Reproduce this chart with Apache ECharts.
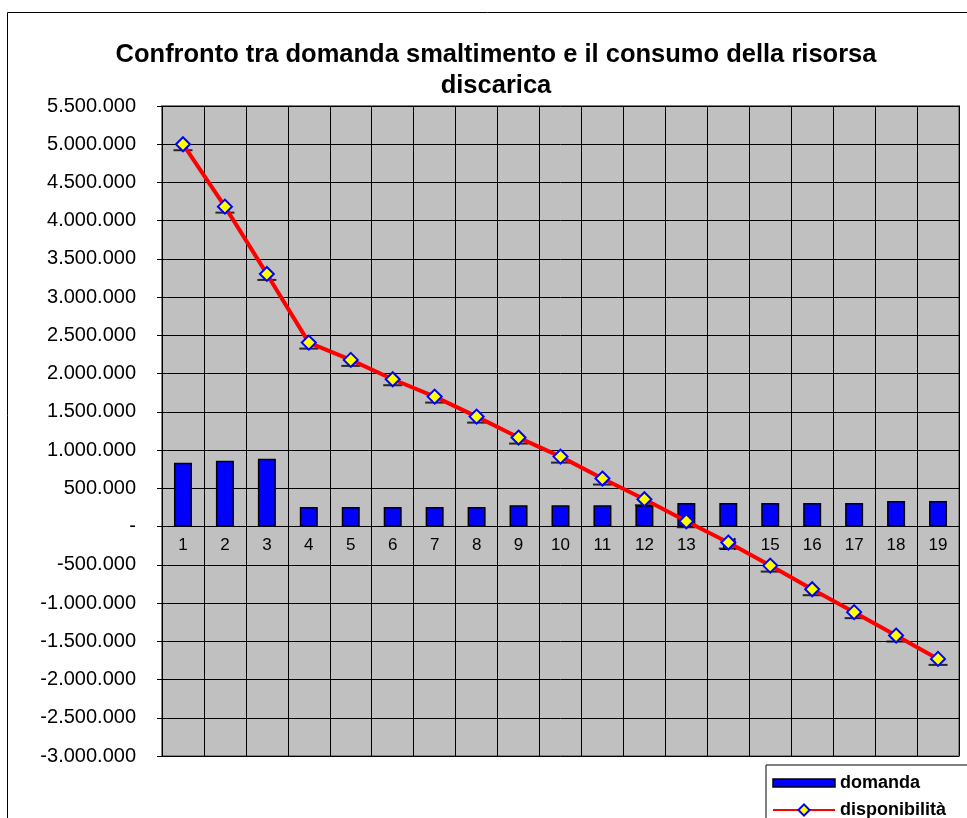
<!DOCTYPE html>
<html>
<head>
<meta charset="utf-8">
<script src="https://cdn.jsdelivr.net/npm/echarts@6/dist/echarts.min.js"></script>
<style>
  html, body { margin: 0; padding: 0; background: #fff; }
  #chart { width: 967px; height: 818px; }
</style>
</head>
<body>
<div id="chart"></div>
<script>
// dati
const categories = ['1','2','3','4','5','6','7','8','9','10','11','12','13','14','15','16','17','18','19'];
const domanda = [835000, 862000, 888000, 256000, 256000, 256000, 256000, 256000, 278000, 278000,
                 278000, 278000, 308000, 308000, 308000, 308000, 308000, 334000, 334000];
const disponibilita = [5000000, 4184000, 3304000, 2406000, 2180000, 1927000, 1700000, 1438000, 1164000, 915000,
                       628000, 358000, 70000, -209000, -510000, -819000, -1119000, -1425000, -1730000];
const yTicks = { min: -3000000, max: 5500000, step: 500000 };

function fmt(v) {
  if (v === 0) return '-';
  const s = Math.abs(v).toString().replace(/\B(?=(\d{3})+(?!\d))/g, '.');
  return (v < 0 ? '-' : '') + s;
}

const gridTop = 106, gridBottom = 62, chartH = 818;
// distanza della linea dello zero dal bordo inferiore del grafico
const plotH = chartH - gridTop - gridBottom;
const zeroFromBottom = plotH * (0 - yTicks.min) / (yTicks.max - yTicks.min);

const chart = echarts.init(document.getElementById('chart'));

const option = {
  backgroundColor: '#ffffff',
  animation: false,
  title: {
    text: 'Confronto tra domanda smaltimento e il consumo della risorsa\ndiscarica',
    left: 491,
    textAlign: 'center',
    top: 34,
    textStyle: {
      fontFamily: 'Arial, Liberation Sans',
      fontSize: 25.5,
      fontWeight: 'bold',
      color: '#000',
      lineHeight: 31
    }
  },
  graphic: [
    {
      type: 'rect',
      left: 5, top: 10,
      shape: { width: 1000, height: 900 },
      style: { fill: 'none', stroke: '#000', lineWidth: 1 },
      z: -1
    }
  ],
  legend: {
    orient: 'vertical',
    left: 766,
    top: 765,
    height: 120,
    width: 300,
    backgroundColor: '#fff',
    borderColor: '#000',
    borderWidth: 1,
    padding: [9, 40, 10, 6],
    itemGap: 9,
    itemWidth: 62,
    itemHeight: 14,
    textStyle: { fontFamily: 'Arial, Liberation Sans', fontSize: 18, fontWeight: 'bold', color: '#000' },
    data: [
      { name: 'domanda', icon: 'path://M0,3 L62,3 L62,11 L0,11 Z', itemStyle: { color: '#0000ff', borderColor: '#000', borderWidth: 1.5 } },
      { name: 'disponibilità' }
    ]
  },
  grid: {
    left: 162, top: gridTop, right: 8, bottom: gridBottom,
    show: true,
    backgroundColor: '#c0c0c0',
    borderColor: '#808080',
    borderWidth: 2
  },
  xAxis: {
    type: 'category',
    data: categories,
    offset: -zeroFromBottom,
    axisLine: { onZero: false, lineStyle: { color: '#000', width: 1 } },
    axisTick: { show: true, length: 4, lineStyle: { color: '#000' } },
    axisLabel: { margin: 10, color: '#000', fontSize: 17, fontFamily: 'Arial, Liberation Sans' },
    splitLine: { show: true, lineStyle: { color: '#000', width: 1 } }
  },
  yAxis: {
    type: 'value',
    min: yTicks.min,
    max: yTicks.max,
    interval: yTicks.step,
    axisLine: { show: false },
    axisTick: { show: true, length: 5, lineStyle: { color: '#000' } },
    axisLabel: { margin: 26, color: '#000', fontSize: 20, fontFamily: 'Arial, Liberation Sans', formatter: fmt },
    splitLine: { show: true, lineStyle: { color: '#000', width: 1 } }
  },
  series: [
    {
      name: 'domanda',
      type: 'bar',
      data: domanda,
      barWidth: 18,
      itemStyle: { color: '#0000ff', borderColor: '#000', borderWidth: 1.5 },
      z: 2
    },
    {
      name: 'trattino',
      type: 'scatter',
      data: disponibilita,
      symbol: 'rect',
      symbolSize: [19, 2],
      symbolOffset: [0, 6],
      itemStyle: { color: '#000' },
      silent: true,
      z: 3
    },
    {
      name: 'disponibilità',
      type: 'line',
      data: disponibilita,
      symbol: 'diamond',
      symbolSize: 14,
      lineStyle: { color: '#ff0000', width: 4 },
      itemStyle: { color: '#ffff00', borderColor: '#0000ff', borderWidth: 2 },
      z: 4
    }
  ]
};

chart.setOption(option);
</script>
</body>
</html>
